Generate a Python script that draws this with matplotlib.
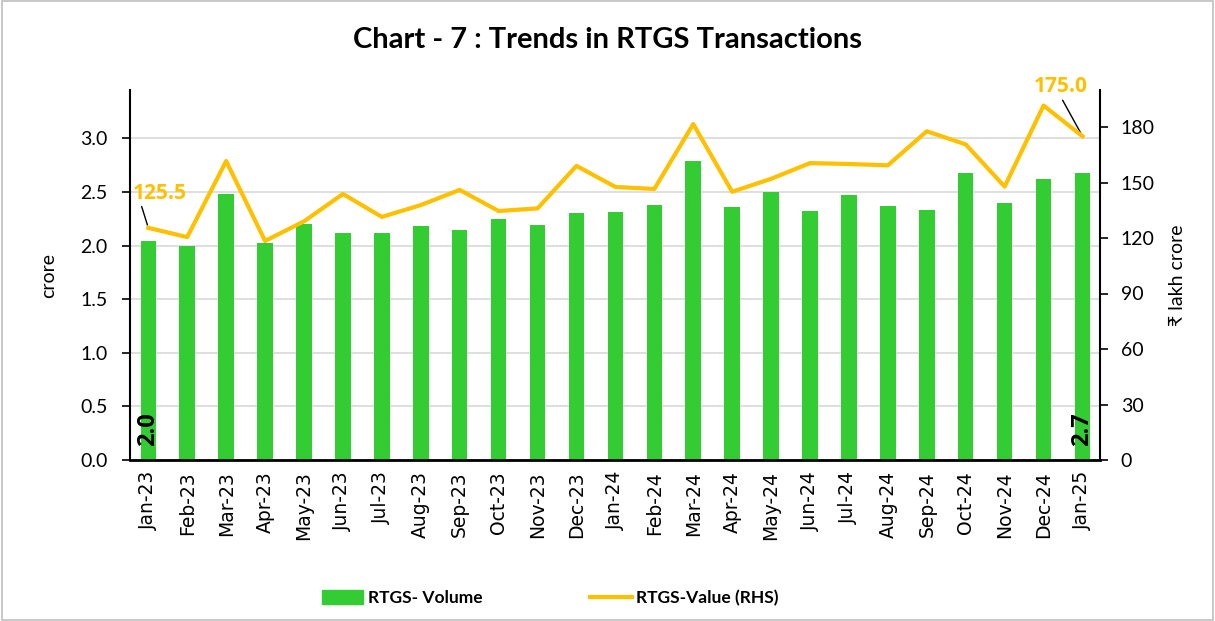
import matplotlib
matplotlib.use("Agg")
import matplotlib.pyplot as plt
from matplotlib.patches import Rectangle
from matplotlib.lines import Line2D

months = ["Jan-23", "Feb-23", "Mar-23", "Apr-23", "May-23", "Jun-23", "Jul-23", "Aug-23",
          "Sep-23", "Oct-23", "Nov-23", "Dec-23", "Jan-24", "Feb-24", "Mar-24", "Apr-24",
          "May-24", "Jun-24", "Jul-24", "Aug-24", "Sep-24", "Oct-24", "Nov-24", "Dec-24", "Jan-25"]
volume = [2.04, 2.00, 2.48, 2.02, 2.20, 2.12, 2.12, 2.18, 2.14, 2.25, 2.19, 2.30, 2.31,
          2.38, 2.79, 2.36, 2.50, 2.32, 2.47, 2.37, 2.33, 2.68, 2.40, 2.62, 2.68]
value = [125.5, 120.5, 161.6, 118.4, 129.0, 143.8, 131.4, 137.8, 146.0, 134.6, 136.0, 159.0,
         147.6, 146.5, 181.6, 145.0, 152.0, 160.5, 160.0, 159.3, 177.7, 170.6, 147.8, 191.6, 175.0]

FONT = ["Lato", "DejaVu Sans"]
BOLDFONT = ["Open Sans", "DejaVu Sans"]
GREEN = "#33CC33"
GOLD = "#FFC000"

fig = plt.figure(figsize=(12.15, 6.21), dpi=100)
fig.patches.append(Rectangle((0.002, 0.002), 0.996, 0.996, transform=fig.transFigure,
                             fill=False, edgecolor="#BFBFBF", linewidth=1.2))

ax = fig.add_axes([130 / 1215, 1 - 460 / 621, 970 / 1215, 370 / 621])
x = list(range(len(months)))
ax.bar(x, volume, width=0.4, color=GREEN, zorder=2)
ax.set_xlim(-0.47, 24.45)
ax.set_ylim(0, 3.45)
ax.set_yticks([0, 0.5, 1.0, 1.5, 2.0, 2.5, 3.0])
ax.set_yticklabels([f"{v:.1f}" for v in [0, 0.5, 1.0, 1.5, 2.0, 2.5, 3.0]],
                   fontsize=14, family=FONT)
ax.yaxis.grid(True, color="#D9D9D9", linewidth=1.2, zorder=0)
ax.set_axisbelow(True)
ax.set_xticks(x)
ax.set_xticklabels(months, rotation=90, fontsize=13.5, family="DejaVu Sans")
ax.tick_params(axis="x", length=0, pad=8)
ax.tick_params(axis="y", length=6, width=1.2, direction="out", pad=10)
for s in ["top", "right"]:
    ax.spines[s].set_visible(False)
ax.spines["left"].set_linewidth(1.5)
ax.spines["bottom"].set_linewidth(2)
ax.set_ylabel("crore", fontsize=14, family=FONT, labelpad=17)

for i in [0, len(volume) - 1]:
    ax.text(x[i], 0.13, f"{volume[i]:.1f}", rotation=90, ha="center", va="bottom",
            fontsize=17, fontweight="bold", family=BOLDFONT, color="black", zorder=5)

ax2 = ax.twinx()
ax2.plot(x, value, color=GOLD, linewidth=3, zorder=4)
ax2.set_ylim(0, 200)
ax2.set_yticks([0, 30, 60, 90, 120, 150, 180])
ax2.set_yticklabels(["0", "30", "60", "90", "120", "150", "180"], fontsize=14, family=FONT)
ax2.tick_params(axis="y", length=6, width=1.2, direction="out", pad=9)
for s in ["top", "left", "bottom"]:
    ax2.spines[s].set_visible(False)
ax2.spines["right"].set_linewidth(1.5)
ax2.set_ylabel("₹ lakh crore", fontsize=14, family=FONT, labelpad=10)

ax2.annotate(f"{value[0]:.1f}", xy=(x[0], value[0]), xytext=(x[0] - 0.4, value[0] + 13),
             fontsize=15, fontweight="bold", color=GOLD, family=BOLDFONT, ha="left", va="bottom",
             arrowprops=dict(arrowstyle="-", color="black", lw=1, shrinkA=0, shrinkB=2,
                             relpos=(0.15, 0)))
ax2.annotate(f"{value[-1]:.1f}", xy=(x[-1], value[-1]), xytext=(x[-1] - 0.55, 196),
             fontsize=15, fontweight="bold", color=GOLD, family=BOLDFONT, ha="center", va="bottom",
             annotation_clip=False,
             arrowprops=dict(arrowstyle="-", color="black", lw=1, shrinkA=0, shrinkB=2,
                             relpos=(0.5, 0)))

fig.text(0.5, 1 - 40 / 621, "Chart - 7 : Trends in RTGS Transactions", ha="center", va="center",
         fontsize=21, fontweight="bold", family=FONT)

handles = [Rectangle((0, 0), 1, 1, color=GREEN), Line2D([0], [0], color=GOLD, lw=3)]
leg = fig.legend(handles, ["RTGS- Volume", "RTGS-Value (RHS)"], loc="center",
                 bbox_to_anchor=(550 / 1215, 1 - 598 / 621), ncol=2, frameon=False,
                 prop={"family": FONT, "size": 12.5, "weight": "bold"},
                 handlelength=2.4, handleheight=0.9, columnspacing=6.2, handletextpad=0.25)

fig.savefig("out.png", dpi=100)
